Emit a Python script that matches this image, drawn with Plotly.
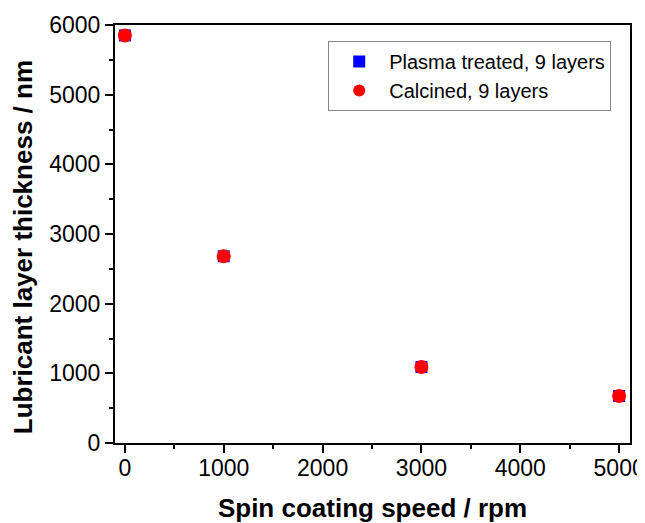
import plotly.graph_objects as go

speed = [0, 1000, 3000, 5000]
plasma_thickness = [5850, 2680, 1090, 675]
calcined_thickness = [5850, 2680, 1090, 675]

series_names = ["Plasma treated, 9 layers", "Calcined, 9 layers"]
x_ticks = [0, 1000, 2000, 3000, 4000, 5000]
y_ticks = [0, 1000, 2000, 3000, 4000, 5000, 6000]
x_title = "<b>Spin coating speed / rpm</b>"
y_title = "<b>Lubricant layer thickness / nm</b>"

fig = go.Figure()
fig.add_trace(go.Scatter(x=speed, y=plasma_thickness, mode="markers", name=series_names[0],
                         marker=dict(symbol="square", size=12, color="#0000ff", line=dict(width=0))))
fig.add_trace(go.Scatter(x=speed, y=calcined_thickness, mode="markers", name=series_names[1],
                         marker=dict(symbol="circle", size=14, color="#ff0000", line=dict(width=0))))

font = "Liberation Sans, Arial, sans-serif"
axis_common = dict(showline=True, linecolor="black", linewidth=2, mirror=True,
                   ticks="outside", ticklen=8, tickwidth=2, tickcolor="black",
                   showgrid=False, zeroline=False, automargin=False,
                   tickfont=dict(family=font, size=23, color="black"))

# page body has an 8px default margin, so the figure is offset by 8px
fig.update_layout(
    width=637, height=515,
    margin=dict(l=107, r=15, t=17, b=80),
    paper_bgcolor="white", plot_bgcolor="white",
    showlegend=True,
    legend=dict(x=0.414, y=0.962, xanchor="left", yanchor="top",
                bordercolor="#888888", borderwidth=1, bgcolor="white",
                font=dict(family=font, size=20, color="black"),
                itemsizing="constant", itemwidth=50, tracegroupgap=0),
    xaxis=dict(range=[-100, 5110], tickvals=x_ticks, ticklabelstandoff=-5,
               minor=dict(ticks="outside", ticklen=4, tickwidth=2, tickcolor="black", dtick=500, tick0=0),
               title=dict(text=x_title, font=dict(family=font, size=26, color="black"), standoff=20),
               **axis_common),
    yaxis=dict(range=[0, 6000], tickvals=y_ticks,
               minor=dict(ticks="outside", ticklen=4, tickwidth=2, tickcolor="black", dtick=500, tick0=0),
               **axis_common),
    annotations=[dict(text=y_title, xref="paper", yref="paper", x=-0.177, y=0.468,
                      xanchor="center", yanchor="middle", textangle=-90, showarrow=False,
                      font=dict(family=font, size=26, color="black"))],
)

fig.write_html("out.html")
